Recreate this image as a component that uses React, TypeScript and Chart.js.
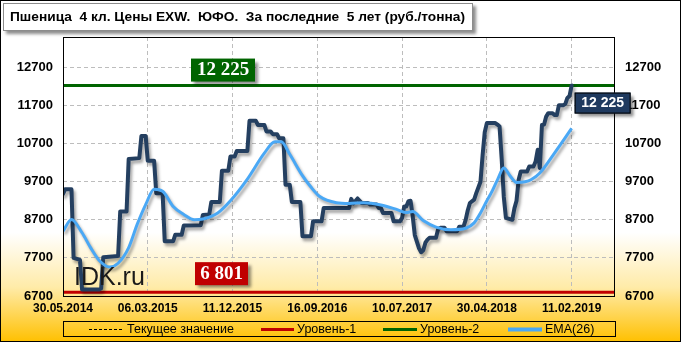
import React, { useEffect, useRef } from "react";
import { Chart, registerables } from "chart.js";

Chart.register(...registerables);

const titleText = "Пшеница  4 кл. Цены EXW.  ЮФО.  За последние  5 лет (руб./тонна)";
const dateLabels = ["30.05.2014", "06.03.2015", "11.12.2015", "16.09.2016", "10.07.2017", "30.04.2018", "11.02.2019"];
const tickWeeks = [0, 40, 80, 120, 160, 200, 240];
const yTicks = [6700, 7700, 8700, 9700, 10700, 11700, 12700];
const legendLabels = ["Текущее значение", "Уровень-1", "Уровень-2", "EMA(26)"];

const level1 = 6801;
const level2 = 12225;
const currentValue = 12225;
const level1Label = "6 801";
const level2Label = "12 225";
const currentLabel = "12 225";

// weekly closing prices (week index from 30.05.2014)
const priceWeeks = [0, 1, 4, 5, 8, 9, 17, 18, 19, 26, 27, 30, 31, 36, 37, 39, 40, 43, 44, 47, 48, 52, 53, 56, 57, 65, 66, 69, 70, 74, 75, 78, 79, 81, 82, 87, 88, 91, 92, 95, 96, 98, 99, 101, 102, 104, 105, 107, 108, 112, 113, 117, 118, 122, 123, 135, 136, 137, 139, 140, 141, 144, 145, 148, 149, 150, 151, 155, 156, 159, 160, 161, 162, 163, 164, 165, 166, 168, 169, 170, 171, 172, 173, 176, 177, 178, 180, 181, 186, 187, 189, 190, 191, 192, 194, 195, 196, 197, 198, 199, 200, 204, 205, 206, 207, 208, 209, 212, 213, 214, 215, 216, 219, 220, 222, 223, 224, 225, 226, 227, 228, 229, 231, 232, 233, 234, 236, 237, 238, 239, 240];
const priceValues = [9380, 9500, 9500, 7700, 7650, 6870, 6870, 6900, 7720, 7750, 8920, 8920, 10300, 10320, 10900, 10900, 10250, 10250, 9400, 9400, 8140, 8140, 8310, 8310, 8550, 8560, 8830, 8840, 9170, 9170, 9990, 9990, 10360, 10360, 10510, 10510, 11300, 11300, 11190, 11190, 11020, 11020, 10950, 10950, 10840, 10840, 9620, 9620, 9170, 9170, 8270, 8270, 8660, 8660, 9010, 9010, 9250, 9130, 9260, 9200, 9140, 9140, 9100, 9100, 9010, 9010, 8880, 8880, 8660, 8660, 8750, 9050, 9050, 9190, 9200, 8800, 8300, 7950, 7850, 7900, 8100, 8180, 8230, 8230, 8450, 8490, 8490, 8400, 8400, 8520, 8520, 8700, 8950, 9140, 9230, 9400, 9550, 9700, 10400, 11000, 11240, 11240, 11200, 11150, 10300, 9300, 8750, 8700, 9000, 9200, 9750, 9970, 9970, 10100, 10100, 10230, 10540, 10060, 11190, 11200, 11410, 11500, 11500, 11450, 11450, 11710, 11710, 11740, 11900, 11950, 12225];

// EMA(26)
const emaWeeks = [0, 4, 9, 13, 17, 22, 26, 31, 35, 39, 43, 47, 52, 57, 62, 66, 73, 79, 87, 95, 100, 103, 107, 113, 117, 121, 129, 135, 142, 150, 158, 162, 165, 170, 176, 183, 190, 194, 197, 200, 202, 205, 208, 211, 214, 218, 221, 225, 232, 240];
const emaValues = [8400, 8710, 8360, 7970, 7640, 7460, 7560, 7970, 8580, 9100, 9500, 9450, 9050, 8840, 8700, 8720, 8880, 9200, 9770, 10450, 10750, 10750, 10420, 9860, 9560, 9320, 9150, 9130, 9150, 9090, 8960, 8890, 8920, 8680, 8510, 8440, 8480, 8620, 8880, 9200, 9400, 9750, 10060, 9850, 9680, 9700, 9760, 9930, 10460, 11100];

const axisMin = 0;
const axisMax = 260;
const yMin = 6700;
const yMax = 13500;

const SANS = '"Liberation Sans", Arial, sans-serif';
const SERIF = '"Liberation Serif", "Times New Roman", serif';

function toPoints(xs: number[], ys: number[]) {
  return xs.map((x, i) => ({ x, y: ys[i] }));
}

function drawBox(ctx: CanvasRenderingContext2D, x: number, y: number, w: number, h: number, fill: string, border: string | null) {
  ctx.save();
  ctx.shadowColor = "rgba(0,0,0,0.45)";
  ctx.shadowBlur = 3;
  ctx.shadowOffsetX = 3;
  ctx.shadowOffsetY = 3;
  ctx.fillStyle = fill;
  ctx.fillRect(x, y, w, h);
  ctx.restore();
  if (border) {
    ctx.save();
    ctx.strokeStyle = border;
    ctx.lineWidth = 1;
    ctx.strokeRect(x + 0.5, y + 0.5, w - 1, h - 1);
    ctx.restore();
  }
}

const decorPlugin = {
  id: "decor",
  beforeDraw(chart: any) {
    const { ctx, width, height } = chart;
    ctx.save();
    const g = ctx.createLinearGradient(0, 0, 0, height);
    g.addColorStop(0, "#FFFFFF");
    g.addColorStop(0.68, "#FFFFFF");
    g.addColorStop(0.84, "#FFEBA8");
    g.addColorStop(1, "#FFC000");
    ctx.fillStyle = g;
    ctx.fillRect(0, 0, width, height);
    ctx.restore();
  },
  beforeDatasetDraw(chart: any, args: any) {
    const ds = chart.data.datasets[args.index];
    if (ds.shadow) {
      const ctx = chart.ctx;
      ctx.save();
      ctx.shadowColor = "rgba(0,0,0,0.35)";
      ctx.shadowBlur = 3;
      ctx.shadowOffsetX = 2;
      ctx.shadowOffsetY = 3;
    }
  },
  afterDatasetDraw(chart: any, args: any) {
    const ds = chart.data.datasets[args.index];
    if (ds.shadow) chart.ctx.restore();
  },
  afterDatasetsDraw(chart: any) {
    const { ctx, chartArea, scales } = chart;
    const ys = scales.y;
    const xs = scales.x;

    // watermark
    ctx.save();
    ctx.fillStyle = "#1a1a1a";
    ctx.font = `25px ${SANS}`;
    ctx.textBaseline = "alphabetic";
    ctx.fillText("IDK.ru", chartArea.left + 11, chartArea.bottom - 11);
    ctx.restore();

    // plot frame
    ctx.save();
    ctx.strokeStyle = "#000";
    ctx.lineWidth = 1;
    ctx.strokeRect(Math.round(chartArea.left) + 0.5, Math.round(chartArea.top) + 0.5, Math.round(chartArea.right - chartArea.left), Math.round(chartArea.bottom - chartArea.top));
    ctx.restore();

    // level-2 label
    const yl2 = ys.getPixelForValue(level2);
    drawBox(ctx, 191, yl2 - 27, 64, 23, "#006400", null);
    ctx.save();
    ctx.fillStyle = "#fff";
    ctx.font = `bold 19px ${SERIF}`;
    ctx.textAlign = "center";
    ctx.textBaseline = "middle";
    ctx.fillText(level2Label, 191 + 32, yl2 - 15);
    ctx.restore();

    // level-1 label
    const yl1 = ys.getPixelForValue(level1);
    drawBox(ctx, 195, yl1 - 30, 53, 23, "#C00000", null);
    ctx.save();
    ctx.fillStyle = "#fff";
    ctx.font = `bold 19px ${SERIF}`;
    ctx.textAlign = "center";
    ctx.textBaseline = "middle";
    ctx.fillText(level1Label, 195 + 26.5, yl1 - 18);
    ctx.restore();

    // current value label
    const lastX = xs.getPixelForValue(priceWeeks[priceWeeks.length - 1]);
    const yc = ys.getPixelForValue(currentValue);
    drawBox(ctx, lastX + 3, yc + 7, 56, 21, "#1F3A5F", "#000");
    ctx.save();
    ctx.fillStyle = "#fff";
    ctx.font = `bold 14px ${SANS}`;
    ctx.textAlign = "center";
    ctx.textBaseline = "middle";
    ctx.fillText(currentLabel, lastX + 3 + 28, yc + 18);
    ctx.restore();
  },
  afterDraw(chart: any) {
    const { ctx, width, height } = chart;
    // title box
    drawBox(ctx, 3, 3, 470, 28, "#fff", "#8c8c8c");
    ctx.save();
    ctx.fillStyle = "#000";
    ctx.font = `bold 13.5px ${SANS}`;
    ctx.textBaseline = "middle";
    const w = ctx.measureText(titleText).width;
    ctx.translate(10, 17);
    ctx.scale(455 / w, 1);
    ctx.fillText(titleText, 0, 0);
    ctx.restore();

    // legend
    ctx.save();
    ctx.strokeStyle = "#000";
    ctx.lineWidth = 1;
    ctx.strokeRect(63.5, 321.5, 552, 15);
    const cy = 329.5;
    const items = [
      { x1: 89, x2: 122, tx: 127, color: "#000", width: 1, dash: [3, 2] },
      { x1: 261, x2: 294, tx: 297, color: "#C00000", width: 3, dash: [] },
      { x1: 383, x2: 417, tx: 420, color: "#006400", width: 3, dash: [] },
      { x1: 508, x2: 542, tx: 545, color: "#4AA8F5", width: 4, dash: [] },
    ];
    items.forEach((it, i) => {
      ctx.save();
      ctx.strokeStyle = it.color;
      ctx.lineWidth = it.width;
      ctx.setLineDash(it.dash);
      ctx.beginPath();
      ctx.moveTo(it.x1, cy);
      ctx.lineTo(it.x2, cy);
      ctx.stroke();
      ctx.restore();
      ctx.fillStyle = "#000";
      ctx.font = `12.5px ${SANS}`;
      ctx.textBaseline = "middle";
      ctx.fillText(legendLabels[i], it.tx, cy + 0.5);
    });
    ctx.restore();

    // outer frame
    ctx.save();
    ctx.strokeStyle = "#000";
    ctx.lineWidth = 1;
    ctx.strokeRect(0.5, 0.5, width - 1, height - 1);
    ctx.restore();
  },
};

export default function App() {
  const ref = useRef<HTMLCanvasElement | null>(null);

  useEffect(() => {
    document.body.style.margin = "0";
    const canvas = ref.current;
    if (!canvas) return;
    const tickFont = { family: SANS, size: 13, weight: "bold" as const };
    const chart = new Chart(canvas, {
      type: "line",
      data: {
        datasets: [
          {
            label: legendLabels[3],
            data: toPoints(emaWeeks, emaValues),
            borderColor: "#4AA8F5",
            borderWidth: 3,
            pointRadius: 0,
            cubicInterpolationMode: "monotone",
            order: 1,
            shadow: true,
          } as any,
          {
            label: "price",
            data: toPoints(priceWeeks, priceValues),
            borderColor: "#243F60",
            borderWidth: 4,
            pointRadius: 0,
            tension: 0,
            borderJoinStyle: "round",
            borderCapStyle: "round",
            order: 2,
            shadow: true,
          } as any,
          {
            label: legendLabels[2],
            data: toPoints([axisMin, axisMax], [level2, level2]),
            borderColor: "#006400",
            borderWidth: 3,
            pointRadius: 0,
            order: 3,
          },
          {
            label: legendLabels[1],
            data: toPoints([axisMin, axisMax], [level1, level1]),
            borderColor: "#C00000",
            borderWidth: 3,
            pointRadius: 0,
            order: 4,
          },
          {
            label: legendLabels[0],
            data: toPoints([axisMin, axisMax], [currentValue, currentValue]),
            borderColor: "#000",
            borderWidth: 1,
            borderDash: [3, 2],
            pointRadius: 0,
            order: 5,
          },
        ],
      },
      options: {
        responsive: false,
        animation: false,
        events: [],
        layout: { padding: { top: 37, left: 0, right: 0, bottom: 0 } },
        plugins: { legend: { display: false }, tooltip: { enabled: false }, title: { display: false } },
        scales: {
          x: {
            type: "linear",
            min: axisMin,
            max: axisMax,
            afterBuildTicks: (s: any) => {
              s.ticks = tickWeeks.map((v) => ({ value: v }));
            },
            afterFit: (s: any) => {
              s.height = 46;
            },
            ticks: {
              autoSkip: false,
              maxRotation: 0,
              minRotation: 0,
              padding: 5,
              color: "#000",
              font: { family: SANS, size: 12, weight: "bold" },
              callback: (v: any) => dateLabels[tickWeeks.indexOf(Number(v))] ?? "",
            },
            grid: { color: "#BDBDBD", lineWidth: 1, drawTicks: false },
            border: { display: false, dash: [4, 3] },
          },
          y: {
            type: "linear",
            position: "left",
            min: yMin,
            max: yMax,
            afterBuildTicks: (s: any) => {
              s.ticks = yTicks.map((v) => ({ value: v }));
            },
            afterFit: (s: any) => {
              s.width = 63;
            },
            ticks: { padding: 10, color: "#000", font: tickFont, callback: (v: any) => String(v) },
            grid: { color: "#BDBDBD", lineWidth: 1, drawTicks: false },
            border: { display: false, dash: [4, 3] },
          },
          y2: {
            type: "linear",
            position: "right",
            min: yMin,
            max: yMax,
            afterBuildTicks: (s: any) => {
              s.ticks = yTicks.map((v) => ({ value: v }));
            },
            afterFit: (s: any) => {
              s.width = 67;
            },
            ticks: { padding: 11, color: "#000", font: tickFont, callback: (v: any) => String(v) },
            grid: { display: false, drawTicks: false },
            border: { display: false },
          },
        },
      } as any,
      plugins: [decorPlugin],
    });
    return () => chart.destroy();
  }, []);

  return (
    <div style={{ width: 681, height: 342 }}>
      <canvas ref={ref} width={681} height={342} style={{ display: "block" }} />
    </div>
  );
}
